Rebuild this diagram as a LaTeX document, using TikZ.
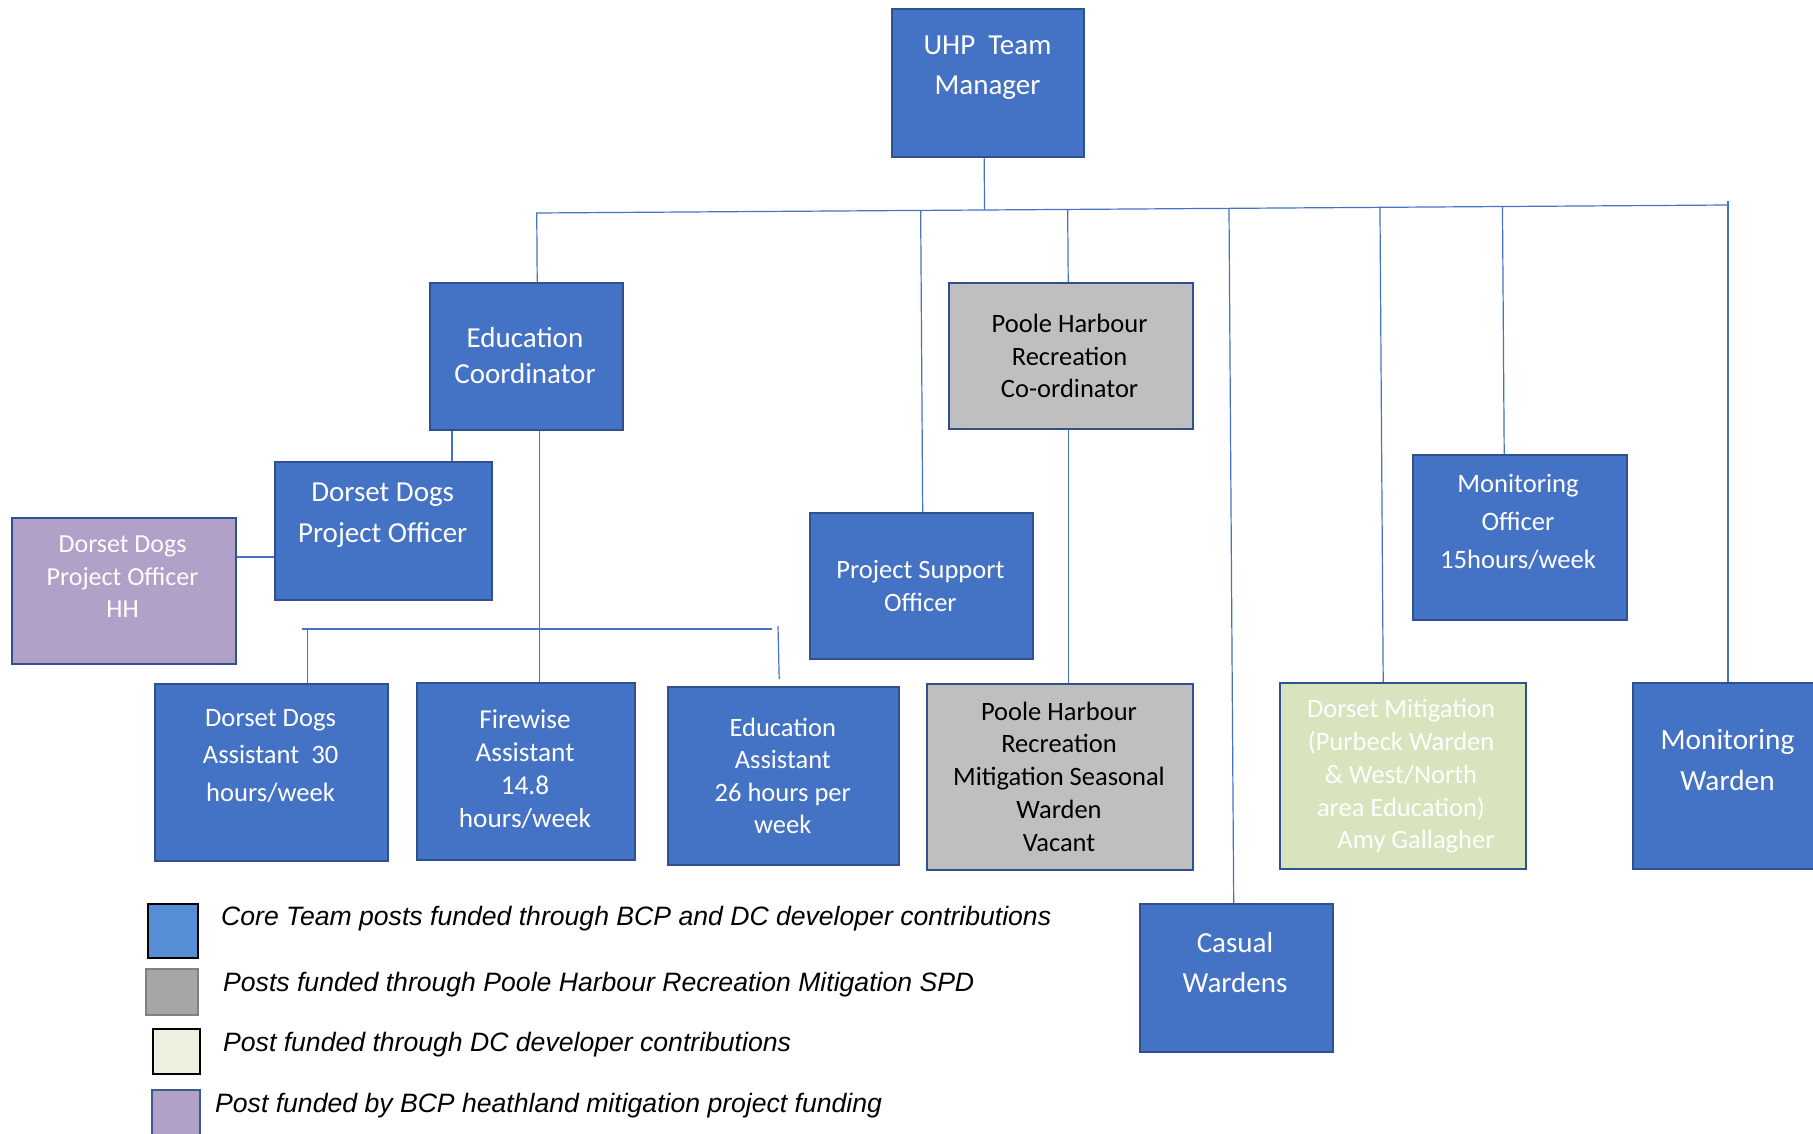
\documentclass[tikz,border=0pt]{standalone}
\usepackage{fontspec}
\setmainfont{Carlito}
\newfontfamily\legfont{Liberation Sans}
\usetikzlibrary{calc}
\definecolor{coreblue}{HTML}{4472C4}
\definecolor{edgeblue}{HTML}{2F528F}
\definecolor{sprgray}{HTML}{BFBFBF}
\definecolor{dcgreen}{HTML}{D7E4BD}
\definecolor{bcppurple}{HTML}{B1A0C7}
\definecolor{legblue}{HTML}{558ED5}
\definecolor{leggray}{HTML}{A6A6A6}
\definecolor{leggreen}{HTML}{EBF1DE}
\definecolor{legedge}{HTML}{385D8A}
\definecolor{linkblue}{HTML}{4472C4}
\begin{document}
\begin{tikzpicture}[x=1pt,y=-1pt,
  post/.style={draw=edgeblue, line width=2.4pt, inner sep=0pt, anchor=north west},
  corepost/.style={post, fill=coreblue},
  sprpost/.style={post, fill=sprgray},
  dcpost/.style={post, fill=dcgreen},
  bcppost/.style={post, fill=bcppurple},
  link/.style={draw=linkblue, line width=1.2pt},
  bigtxt/.style={text=white, align=center, inner sep=0pt, font=\fontsize{29}{40.5}\selectfont},
  midtxt/.style={text=white, align=center, inner sep=0pt, font=\fontsize{26.6}{37.3}\selectfont},
  smalltxt/.style={text=white, align=center, inner sep=0pt, font=\fontsize{26.5}{32.5}\selectfont},
  legbox/.style={line width=1.5pt, inner sep=0pt, anchor=north west},
  legtxt/.style={anchor=base west, inner sep=0pt, font=\legfont\itshape\fontsize{26.6}{30}\selectfont}
]
\useasboundingbox (0,0) rectangle (1813,1133);

% boxes
\node[corepost, minimum width=192pt, minimum height=148pt] (uhp) at (891,8) {};
\node[corepost, minimum width=193pt, minimum height=147pt] (educ) at (429,282) {};
\node[sprpost, minimum width=244pt, minimum height=146pt] (pcoord) at (948,282) {};
\node[corepost, minimum width=217pt, minimum height=138pt] (ddpo) at (274,461) {};
\node[bcppost, minimum width=224pt, minimum height=146pt] (hh) at (11,517) {};
\node[corepost, minimum width=223pt, minimum height=146pt] (pso) at (809,512) {};
\node[corepost, minimum width=214pt, minimum height=165pt] (mo) at (1412,454) {};
\node[corepost, minimum width=233pt, minimum height=177pt] (dda) at (154,683) {};
\node[corepost, minimum width=218pt, minimum height=177pt] (fwa) at (416,682) {};
\node[corepost, minimum width=231pt, minimum height=178pt] (eda) at (667,686) {};
\node[sprpost, minimum width=266pt, minimum height=186pt] (seas) at (926,683) {};
\node[dcpost, minimum width=246pt, minimum height=186pt] (dmit) at (1279,682) {};
\node[corepost, minimum width=208pt, minimum height=186pt] (mw) at (1632,682) {};
\node[corepost, minimum width=193pt, minimum height=148pt] (casual) at (1139,903) {};

% texts
\node[bigtxt] (uhpT) at (987.5,67.6) {UHP\ \ Team\\Manager};
\node[bigtxt, font=\fontsize{29}{36}\selectfont] (educT) at (525,355.6) {Education\\Coordinator};
\node[smalltxt, text=black] (pcoordT) at (1069.6,356) {Poole Harbour\\Recreation\\Co-ordinator};
\node[bigtxt] (ddpoT) at (382.7,515) {Dorset Dogs\\Project Officer};
\node[smalltxt, font=\fontsize{26}{32.4}\selectfont] (hhT) at (122.6,577) {Dorset Dogs\\Project Officer\\HH};
\node[smalltxt] (psoT) at (920.4,586) {Project Support\\Officer};
\node[midtxt, font=\fontsize{26.6}{37.6}\selectfont] (moT) at (1518,522) {Monitoring\\Officer\\15hours/week};
\node[midtxt] (ddaT) at (270.6,756) {Dorset Dogs\\Assistant\ \ 30\\hours/week};
\node[smalltxt, font=\fontsize{27.3}{33}\selectfont] (fwaT) at (525,769.5) {Firewise\\Assistant\\14.8\\hours/week};
\node[smalltxt] (edaT) at (782.8,776) {Education\\Assistant\\26 hours per\\week};
\node[smalltxt, text=black, font=\fontsize{26.5}{32.7}\selectfont] (seasT) at (1059,776.5) {Poole Harbour\\Recreation\\Mitigation Seasonal\\Warden\\Vacant};
\node[smalltxt, font=\fontsize{26.5}{32.7}\selectfont] (dmitT) at (1401,776.5) {Dorset Mitigation\\(Purbeck Warden\\\&~West/North\\area Education)\\\hspace*{30pt}Amy Gallagher};
\node[bigtxt, font=\fontsize{29.3}{40.5}\selectfont] (mwT) at (1727.5,760) {Monitoring\\Warden};
\node[bigtxt] (casualT) at (1235,962.6) {Casual\\Wardens};

% top bus
\coordinate (busL) at (536,213);
\coordinate (busR) at (1728,205);
\coordinate (busTip) at (1728,201);
\draw[link] (busL) -- (busR);
\draw[link] ([xshift=-4pt]uhp.south) -- ($(busL)!([xshift=-4pt]uhp.south)!(busR)$);
\draw[link] ($(busL)!([xshift=10.5pt]educ.north)!(busR)$) -- ([xshift=10.5pt]educ.north);
\draw[link] ($(busL)!([xshift=1pt]pso.north)!(busR)$) -- ([xshift=1pt]pso.north);
\draw[link] ($(busL)!([xshift=-3pt]pcoord.north)!(busR)$) -- ([xshift=-3pt]pcoord.north);
\draw[link] ($(busL)!([xshift=-3pt]casual.north)!(busR)$) -- ([xshift=-3pt]casual.north);
\draw[link] ($(busL)!([xshift=-20pt]dmit.north)!(busR)$) -- ([xshift=-20pt]dmit.north);
\draw[link] ($(busL)!([xshift=-16pt]mo.north)!(busR)$) -- ([xshift=-16pt]mo.north);
\draw[link] (busTip) -- (busTip |- mw.north);

% education sub-tree
\draw[link] ([xshift=23pt]educ.south west) -- ([xshift=23pt]educ.south west |- ddpo.north);
\draw[link] ([xshift=12.5pt]educ.south) -- ([xshift=12.5pt]educ.south |- fwa.north);
\draw[link] ([yshift=-40pt]hh.north east) -- ([yshift=-40pt]hh.north east -| ddpo.west);
\coordinate (sbL) at (302,629);
\coordinate (sbR) at (772,629);
\coordinate (edaTop) at (778,626);
\draw[link] (sbL) -- (sbR);
\draw[link] ([xshift=35.5pt]dda.north |- sbL) -- ([xshift=35.5pt]dda.north);
\draw[link] (edaTop) -- ([xshift=-4.5pt,yshift=7pt]eda.north);

% poole harbour
\draw[link] ([xshift=-3pt]pcoord.south) -- ([xshift=-3pt]pcoord.south |- seas.north);

% legend
\node[legbox, draw=black, fill=legblue, minimum width=50pt, minimum height=54pt] (lg1) at (147,903) {};
\node[legbox, draw=gray, fill=leggray, minimum width=52pt, minimum height=46pt] (lg2) at (145,968) {};
\node[legbox, draw=black, fill=leggreen, minimum width=47pt, minimum height=45pt] (lg3) at (152,1028) {};
\node[legbox, draw=legedge, fill=bcppurple, minimum width=48pt, minimum height=52pt] (lg4) at (151,1089) {};
\node[legtxt] (lt1) at (221,925) {Core Team posts funded through BCP and DC developer contributions};
\node[legtxt] (lt2) at (223,991) {Posts funded through Poole Harbour Recreation Mitigation SPD};
\node[legtxt] (lt3) at (223,1051.7) {Post funded through DC developer contributions};
\node[legtxt] (lt4) at (215,1112.3) {Post funded by BCP heathland mitigation project funding};
\end{tikzpicture}
\end{document}
